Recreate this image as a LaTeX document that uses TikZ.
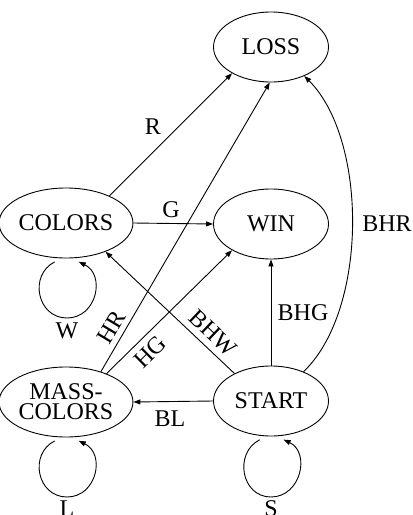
\documentclass[tikz,border=0pt]{standalone}
\usepackage{fontspec}
\setmainfont{Liberation Serif}
\usetikzlibrary{shapes.geometric,arrows.meta}
\begin{document}
\begin{tikzpicture}[x=1pt,y=-1pt,
  every node/.style={font=\fontsize{24}{23}\selectfont},
  state/.style={ellipse,draw,line width=0.9pt,minimum width=115pt,minimum height=70pt,inner sep=0pt,align=center},
  edge/.style={line width=0.9pt,-{Triangle[length=7pt,width=5pt]}},
  lbl/.style={inner sep=0pt}]
\useasboundingbox (0,0) rectangle (413,515);
\node[state] (loss) at (271,47) {LOSS};
\node[state] (colors) at (66,223) {COLORS};
\node[state] (win) at (271,224) {WIN};
\node[state] (mass) at (66,402) {MASS-\\[-3pt]COLORS};
\node[state] (start) at (271,401) {START};
\coordinate (cb) at (67,318);
\coordinate (mb) at (67,497);
\coordinate (sb) at (271,497);
% edges
\draw[edge] (colors.32) -- (loss.-146);
\draw[edge] (colors.east) -- (win.west);
\draw[edge] (mass.41) -- (loss.-92);
\draw[edge] (mass.35) -- (win.-146);
\draw[edge] (start.143) -- (colors.-36);
\draw[edge] (start.north) -- (win.south);
\draw[edge] (start.42) .. controls (368,310) and (368,140) .. (loss.-41);
\draw[edge] (start.west) -- (mass.east);
% loops
\draw[edge] ([yshift=-4pt]colors.-108) .. controls +(-26,13) and +(-30,0) .. (cb)
  .. controls +(30,0) and +(27,13) .. ([yshift=-4pt]colors.-70);
\draw[edge] ([yshift=-4pt]mass.-108) .. controls +(-26,13) and +(-30,0) .. (mb)
  .. controls +(30,0) and +(27,13) .. ([yshift=-4pt]mass.-70);
\draw[edge] ([yshift=-4pt]start.-108) .. controls +(-26,13) and +(-30,0) .. (sb)
  .. controls +(30,0) and +(27,13) .. ([yshift=-4pt]start.-70);
% labels
\node[lbl] (lR) at (153,127) {R};
\node[lbl] (lG) at (171,210) {G};
\node[lbl] (lBHR) at (387,224) {BHR};
\node[lbl] (lBHG) at (303,313) {BHG};
\node[lbl,rotate=59] (lHR) at (111,327) {HR};
\node[lbl,rotate=44.5] (lHG) at (150,352) {HG};
\node[lbl,rotate=-43.6] (lBHW) at (213,333) {BHW};
\node[lbl] (lBL) at (170,419) {BL};
\node[lbl] (lW) at (67,331) {W};
\node[lbl] (lL) at (67,509) {L};
\node[lbl] (lS) at (271,509) {S};
\end{tikzpicture}
\end{document}
